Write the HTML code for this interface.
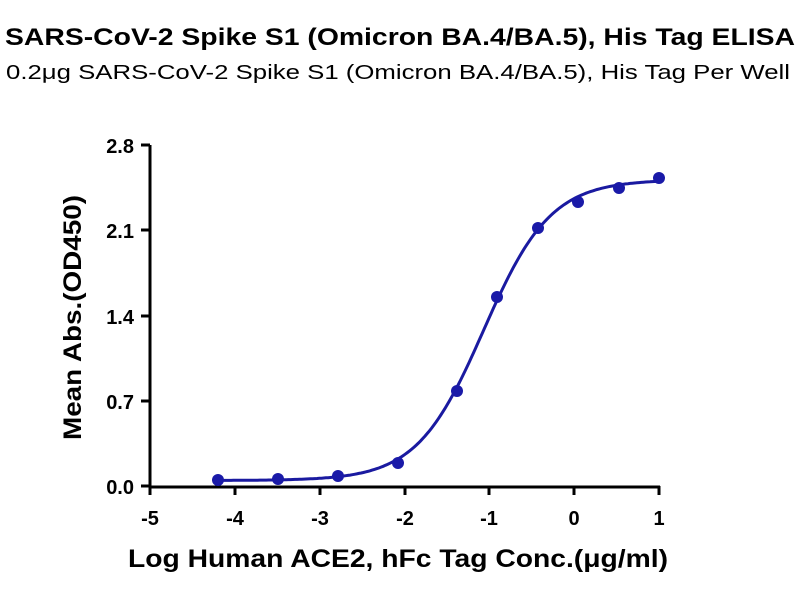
<!DOCTYPE html>
<html><head><meta charset="utf-8"><style>
body{margin:0;background:#fff;}
svg{display:block;font-family:"Liberation Sans",sans-serif;}
</style></head><body>
<svg width="800" height="600" viewBox="0 0 800 600" xmlns="http://www.w3.org/2000/svg">
<text x="5" y="45" font-size="24" font-weight="bold" textLength="790" lengthAdjust="spacingAndGlyphs">SARS-CoV-2 Spike S1 (Omicron BA.4/BA.5), His Tag ELISA</text>
<text x="6" y="79" font-size="20" textLength="784" lengthAdjust="spacingAndGlyphs">0.2μg SARS-CoV-2 Spike S1 (Omicron BA.4/BA.5), His Tag Per Well</text>
<g stroke="#000" stroke-width="3" fill="none">
<path d="M150,145 V487 H660"/>
<path d="M141,145H150M141,230H150M141,316H150M141,401H150M141,486H150"/>
<path d="M150,486V495M235,486V495M320,486V495M405,486V495M489,486V495M574,486V495M659,486V495"/>
</g>
<g font-size="20" font-weight="bold" text-anchor="end">
<text x="134" y="153">2.8</text><text x="134" y="238">2.1</text><text x="134" y="324">1.4</text><text x="134" y="409">0.7</text><text x="134" y="494">0.0</text>
</g>
<g font-size="20" font-weight="bold" text-anchor="middle">
<text x="150" y="525">-5</text><text x="235" y="525">-4</text><text x="320" y="525">-3</text><text x="405" y="525">-2</text><text x="489" y="525">-1</text><text x="574" y="525">0</text><text x="659" y="525">1</text>
</g>
<text x="128" y="567" font-size="25" font-weight="bold" textLength="540" lengthAdjust="spacingAndGlyphs">Log Human ACE2, hFc Tag Conc.(μg/ml)</text>
<text transform="translate(81,440) rotate(-90)" font-size="25" font-weight="bold" textLength="245" lengthAdjust="spacingAndGlyphs">Mean Abs.(OD450)</text>
<path id="c" fill="none" stroke="#1a1aa0" stroke-width="3"/>
<g fill="#1a1aa8">
<circle cx="218" cy="480" r="6"/><circle cx="278" cy="479" r="6"/><circle cx="338" cy="476" r="6"/><circle cx="398" cy="463" r="6"/><circle cx="457" cy="391" r="6"/><circle cx="497" cy="297" r="6"/><circle cx="538" cy="228" r="6"/><circle cx="578" cy="202" r="6"/><circle cx="619" cy="188" r="6"/><circle cx="659" cy="178" r="6"/>
</g>
<script>
var d="";for(var i=0;i<=200;i++){var x=-4.2+5.2*i/200;var v=0.045+(2.47)/(1+Math.pow(10,1.1*(-1.065-x)));var px=150+(x+5)*84.8,py=486-v*121.8;d+=(i?"L":"M")+px.toFixed(1)+","+py.toFixed(1);}
document.getElementById("c").setAttribute("d",d);
</script>
</svg>
</body></html>
